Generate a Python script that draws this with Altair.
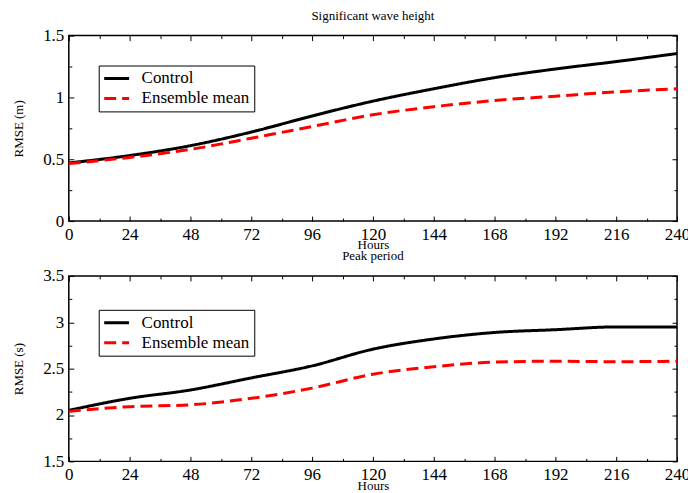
import altair as alt
import pandas as pd

hours = [0, 24, 48, 72, 96, 120, 144, 168, 192, 216, 240]
series_names = ["Control", "Ensemble mean"]

swh_control = [0.47, 0.53, 0.61, 0.72, 0.85, 0.97, 1.07, 1.16, 1.23, 1.29, 1.355]
swh_ensemble = [0.465, 0.515, 0.58, 0.67, 0.765, 0.86, 0.925, 0.975, 1.01, 1.045, 1.07]

tp_control = [2.05, 2.18, 2.27, 2.40, 2.53, 2.71, 2.82, 2.89, 2.92, 2.95, 2.95]
tp_ensemble = [2.04, 2.09, 2.11, 2.18, 2.29, 2.44, 2.52, 2.57, 2.58, 2.575, 2.58]

x_major = [0, 24, 48, 72, 96, 120, 144, 168, 192, 216, 240]
x_minor = [12, 36, 60, 84, 108, 132, 156, 180, 204, 228]

swh_major = [0, 0.5, 1, 1.5]
swh_minor = [0.25, 0.75, 1.25]
tp_major = [1.5, 2, 2.5, 3, 3.5]
tp_minor = [1.75, 2.25, 2.75, 3.25]

FONT = "Liberation Serif"
W, H = 610, 186


def long_df(ctrl, ens):
    rows = []
    for h, c in zip(hours, ctrl):
        rows.append({"hour": h, "rmse": c, "series": series_names[0]})
    for h, e in zip(hours, ens):
        rows.append({"hour": h, "rmse": e, "series": series_names[1]})
    return pd.DataFrame(rows)


def tick_axis(orient, values, size):
    return alt.Axis(orient=orient, values=values, offset=-size, tickSize=size,
                    labels=False, domain=False, grid=False, title=None,
                    minExtent=0, maxExtent=0,
                    tickColor="black", tickWidth=1)


def panel(df, ydom, ymaj, ymin, ytitle, title, legend_y):
    xs = alt.Scale(domain=[0, 240], nice=False, zero=False)
    ys = alt.Scale(domain=ydom, nice=False, zero=False)
    leg = alt.Legend(orient="none", legendX=30, legendY=legend_y, title=None,
                     fillColor="white", strokeColor="black", padding=4,
                     symbolType="stroke", symbolSize=625, symbolStrokeWidth=3,
                     labelFont=FONT, labelFontSize=17, labelColor="black",
                     rowPadding=2, clipHeight=18, labelOffset=11, cornerRadius=0)
    lines = alt.Chart(df).mark_line(strokeWidth=3, interpolate="monotone").encode(
        x=alt.X("hour:Q", scale=xs, axis=alt.Axis(
            orient="bottom", values=x_major, offset=-5, tickSize=5, domain=False,
            grid=False, labelFont=FONT, labelFontSize=17, labelColor="black",
            labelPadding=18, labelBaseline="alphabetic", labelFlush=False,
            labelOverlap=False, labelBound=False, tickColor="black",
            minExtent=0,
            title="Hours", titleFont=FONT, titleFontSize=13, titleFontWeight="normal",
            titleColor="black", titleY=33, titleBaseline="alphabetic")),
        y=alt.Y("rmse:Q", scale=ys, axis=alt.Axis(
            orient="left", values=ymaj, format="~g", offset=-5, tickSize=5, domain=False,
            grid=False, labelFont=FONT, labelFontSize=17, labelColor="black",
            labelPadding=5, labelBaseline="middle", labelFlush=False,
            labelOverlap=False, tickColor="black", minExtent=0,
            title=ytitle, titleFont=FONT, titleFontSize=13, titleFontWeight="normal",
            titleColor="black", titleX=-55, titleY=H / 2, titleBaseline="middle",
            titleAngle=270)),
        color=alt.Color("series:N", scale=alt.Scale(domain=series_names, range=["black", "red"]),
                        legend=leg),
        strokeDash=alt.StrokeDash("series:N", scale=alt.Scale(domain=series_names,
                                                                range=[[1, 0], [12, 6]]),
                                  legend=leg),
    )
    d1 = alt.Chart(df).mark_point(opacity=0, size=1).encode(
        x=alt.X("hour:Q", scale=xs, axis=tick_axis("bottom", x_minor, 3)),
        y=alt.Y("rmse:Q", scale=ys, axis=tick_axis("left", ymin, 3)),
    )
    d2 = alt.Chart(df).mark_point(opacity=0, size=1).encode(
        x=alt.X("hour:Q", scale=xs, axis=tick_axis("top", x_major, 5)),
        y=alt.Y("rmse:Q", scale=ys, axis=tick_axis("right", ymaj, 5)),
    )
    d3 = alt.Chart(df).mark_point(opacity=0, size=1).encode(
        x=alt.X("hour:Q", scale=xs, axis=tick_axis("top", x_minor, 3)),
        y=alt.Y("rmse:Q", scale=ys, axis=tick_axis("right", ymin, 3)),
    )
    return alt.layer(lines, d1, d2, d3).resolve_axis(
        x="independent", y="independent"
    ).properties(
        width=W, height=H,
        title=alt.TitleParams(title, font=FONT, fontSize=13, fontWeight="normal",
                              color="black", anchor="middle", baseline="alphabetic",
                              offset=-6),
    )


top = panel(long_df(swh_control, swh_ensemble), [0, 1.5], swh_major, swh_minor,
            "RMSE (m)", "Significant wave height", 30)
bottom = panel(long_df(tp_control, tp_ensemble), [1.5, 3.5], tp_major, tp_minor,
               "RMSE (s)", "Peak period", 34)

chart = alt.vconcat(top, bottom, spacing=55, bounds="flush").resolve_scale(
    x="independent", y="independent", color="independent", strokeDash="independent"
).properties(
    padding={"left": 12, "top": 8, "right": -3, "bottom": 0},
    background="white",
).configure(font=FONT).configure_axis(
    labelFont=FONT, titleFont=FONT
).configure_legend(labelFont=FONT).configure_title(font=FONT).configure_view(
    stroke="black", strokeWidth=1.5
)

chart.save("out.html", embed_options={"renderer": "svg", "actions": False})
